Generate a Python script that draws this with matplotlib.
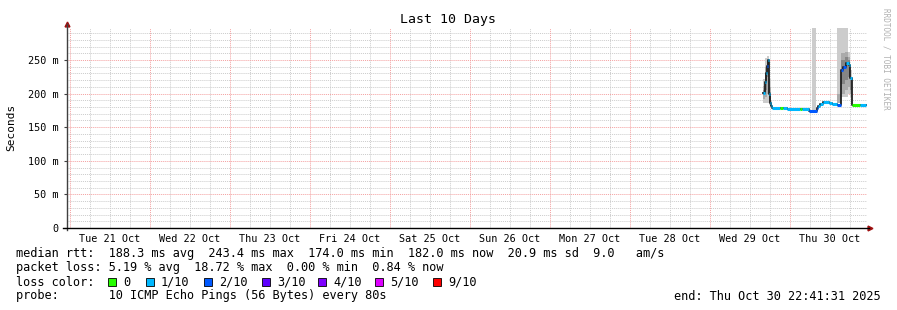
import matplotlib
matplotlib.use("Agg")
import matplotlib.pyplot as plt
from matplotlib.patches import Rectangle
import numpy as np

plt.rcParams['font.family'] = ['DejaVu Sans Mono']

# time axis: days since Tue 21 Oct 00:00
day_labels = ["Tue 21 Oct", "Wed 22 Oct", "Thu 23 Oct", "Fri 24 Oct", "Sat 25 Oct",
              "Sun 26 Oct", "Mon 27 Oct", "Tue 28 Oct", "Wed 29 Oct", "Thu 30 Oct"]
y_ticks = [0, 50, 100, 150, 200, 250]
y_labels = ["0", "50 m", "100 m", "150 m", "200 m", "250 m"]

# median rtt (ms), step start times (days), loss bin index
med_t = [8.6625, 8.6875, 8.700, 8.7125, 8.725, 8.7375, 8.750, 8.7625, 8.775, 8.875,
         8.9125, 8.9625, 9.125, 9.15, 9.2375, 9.3375, 9.35, 9.375, 9.4125, 9.4875,
         9.525, 9.5875, 9.6375, 9.6625, 9.700, 9.7375, 9.750, 9.775, 9.875]
med_end = 9.95
med_v = [201, 217, 230, 241, 250, 200, 186, 181, 178, 178,
         178, 176.5, 176.5, 176.5, 174.5, 179, 181.5, 184, 188, 185.5,
         184, 183, 235, 240, 246, 243, 223, 183, 183]
med_loss = [1, 1, 1, 2, 1, 1, 1, 1, 1, 0,
            1, 1, 0, 1, 2, 2, 1, 1, 1, 1,
            1, 2, 2, 2, 1, 1, 1, 0, 1]

# smoke columns (ms)
smoke_start = [8.6625, 8.6875, 8.7125, 8.7375, 8.7625, 9.271, 9.5875, 9.6375, 9.6875, 9.725, 9.75]
smoke_end = [8.6875, 8.7125, 8.7375, 8.7625, 8.775, 9.325, 9.6375, 9.6875, 9.725, 9.75, 9.775]
light_lo = [186, 186, 186, 183, 179, 175, 186, 195, 195, 200, 195]
light_hi = [222, 253, 256, 222, 190, 300, 300, 300, 300, 262, 235]
mid_lo = [192, 195, 200, 188, 180, 175, 186, 200, 205, 210, 200]
mid_hi = [212, 240, 250, 210, 186, 175, 200, 260, 262, 255, 225]
dark_lo = [198, 205, 225, 192, 180, 175, 186, 215, 220, 225, 205]
dark_hi = [206, 230, 248, 202, 183, 175, 186, 250, 255, 250, 220]

loss_names = ["0", "1/10", "2/10", "3/10", "4/10", "5/10", "9/10"]
loss_colors = ["#26ff00", "#00b8ff", "#0059ff", "#5e00ff", "#7e00ff", "#dd00ff", "#ff0000"]

W, H = 897, 310
fig = plt.figure(figsize=(W / 100, H / 100), dpi=100)
fig.patch.set_facecolor("white")
ax = fig.add_axes([67 / W, 82 / H, 800 / W, 200 / H])
ax.set_xlim(-0.0375, 9.9625)
ax.set_ylim(0, 297.6)

# grid
dot = (0, (1, 1))
for q in np.arange(0, 10, 0.25):
    if q % 1 != 0:
        ax.axvline(q, color="#cccccc", lw=0.7, ls=dot, zorder=0)
for yv in range(10, 300, 10):
    if yv % 50 != 0:
        ax.axhline(yv, color="#cccccc", lw=0.7, ls=dot, zorder=0)
for d in range(0, 10):
    ax.axvline(d, color="#f4a0a0", lw=0.7, ls=dot, zorder=0)
for yv in range(50, 300, 50):
    ax.axhline(yv, color="#f4a0a0", lw=0.7, ls=dot, zorder=0)

# smoke
for s, e, a, b in zip(smoke_start, smoke_end, light_lo, light_hi):
    ax.bar(s, b - a, width=e - s, bottom=a, align="edge", color="#cccccc", lw=0, zorder=1)
for s, e, a, b in zip(smoke_start, smoke_end, mid_lo, mid_hi):
    ax.bar(s, b - a, width=e - s, bottom=a, align="edge", color="#aaaaaa", lw=0, zorder=1)
for s, e, a, b in zip(smoke_start, smoke_end, dark_lo, dark_hi):
    ax.bar(s, b - a, width=e - s, bottom=a, align="edge", color="#858585", lw=0, zorder=1)

# median line
t_all = med_t + [med_end]
v_all = med_v + [med_v[-1]]
ax.step(t_all, v_all, where="post", color="#202020", lw=1.3, zorder=2)
t_next = med_t[1:] + [med_end]
for t0, t1, v, l in zip(med_t, t_next, med_v, med_loss):
    ax.hlines(v, t0, t1, color=loss_colors[l], lw=2.2, zorder=3)

# axes
for sp in ax.spines.values():
    sp.set_visible(False)
ax.plot([0, 0], [-0.01, 1.02], transform=ax.transAxes, color="#404040", lw=1, clip_on=False, zorder=5)
ax.plot([-0.005, 1.003], [0, 0], transform=ax.transAxes, color="black", lw=1, clip_on=False, zorder=5)
ax.plot(0, 1.02, marker="^", color="#a01010", ms=3.5, transform=ax.transAxes, clip_on=False)
ax.plot(1.004, 0, marker=">", color="#a01010", ms=3.5, transform=ax.transAxes, clip_on=False)

ax.set_yticks(y_ticks, y_labels, fontsize=7.3)
ax.set_xticks(np.arange(10) + 0.5, day_labels, fontsize=7.3)
ax.tick_params(axis="y", length=2, pad=4, color="#404040")
ax.tick_params(axis="x", length=0, pad=4)

fig.text(448 / W, 1 - 19 / H, "Last 10 Days", ha="center", va="center", fontsize=9.5)
fig.text(11 / W, 1 - 127 / H, "Seconds", ha="center", va="center", rotation=90, fontsize=8)
fig.text(886 / W, 1 - 59 / H, "RRDTOOL / TOBI OETIKER", ha="center", va="center",
         rotation=270, fontsize=5.5, color="#b0b0b0")

fs = 8.55
fig.text(16 / W, 1 - 254 / H,
         "median rtt:  188.3 ms avg  243.4 ms max  174.0 ms min  182.0 ms now  20.9 ms sd  9.0   am/s",
         va="center", fontsize=fs)
fig.text(16 / W, 1 - 268 / H,
         "packet loss: 5.19 % avg  18.72 % max  0.00 % min  0.84 % now",
         va="center", fontsize=fs)
fig.text(16 / W, 1 - 282 / H, "loss color:", va="center", fontsize=fs)
box_x = [108, 146, 204, 262, 318, 375, 433]
for bx, name, c in zip(box_x, loss_names, loss_colors):
    fig.patches.append(Rectangle((bx / W, (H - 286) / H), 8 / W, 8 / H, transform=fig.transFigure,
                                 facecolor=c, edgecolor="black", lw=0.6))
    fig.text((bx + 15) / W, 1 - 282 / H, name, va="center", fontsize=fs)
fig.text(16 / W, 1 - 296 / H, "probe:       10 ICMP Echo Pings (56 Bytes) every 80s", va="center", fontsize=fs)
fig.text(881 / W, 1 - 296 / H, "end: Thu Oct 30 22:41:31 2025", ha="right", va="center", fontsize=fs)

fig.savefig("out.png", dpi=100, facecolor="white")
